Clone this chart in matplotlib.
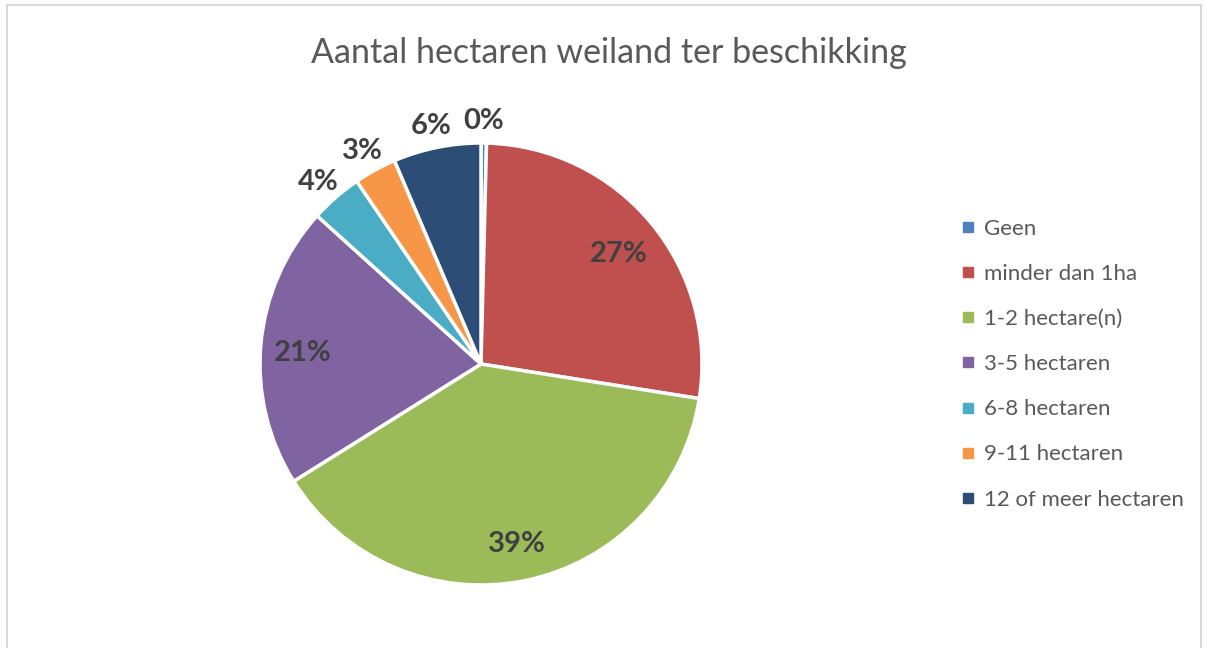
import matplotlib
matplotlib.use("Agg")
import matplotlib.pyplot as plt
from matplotlib.lines import Line2D
from matplotlib.patches import Rectangle
import numpy as np

# ------------------------------------------------------------------------
# Data (percent of respondents)
# ------------------------------------------------------------------------
categories = ["Geen", "minder dan 1ha", "1-2 hectare(n)", "3-5 hectaren",
              "6-8 hectaren", "9-11 hectaren", "12 of meer hectaren"]
shares = [0.4, 27.1, 38.6, 20.6, 3.8, 3.1, 6.4]
colors = ["#4F81BD", "#C0504D", "#9BBB59", "#8064A2",
          "#4BACC6", "#F79646", "#2C4D75"]
# labels that Excel put outside the pie ("best fit")
outside = [True, False, False, False, True, True, True]

plt.rcParams['font.family'] = ['Lato', 'DejaVu Sans']
TEXT = "#595959"

fig = plt.figure(figsize=(12.06, 6.48), dpi=100)

# light grey chart border
fig.patches.append(Rectangle((7 / 1206, -0.01), 1194 / 1206, 1 - 5 / 648 + 0.01,
                             transform=fig.transFigure, fill=False,
                             edgecolor="#d9d9d9", linewidth=1.5))

# pie axes: centre (481, 364) px, radius 221 px
R = 221
lim = 1.3
w = 2 * lim * R
ax = fig.add_axes([(481 - w / 2) / 1206, (648 - 364 - w / 2) / 648, w / 1206, w / 648])

wedges, _, autotexts = ax.pie(
    shares, colors=colors, startangle=90, counterclock=False,
    autopct=lambda p: f"{p:.0f}%",
    wedgeprops=dict(edgecolor="white", linewidth=2.5),
    textprops=dict(fontsize=21, fontweight="bold", color="#404040"))

# move data labels: inside ones deeper, small ones outside the rim
for wdg, txt, out in zip(wedges, autotexts, outside):
    ang = np.deg2rad((wdg.theta1 + wdg.theta2) / 2)
    d = 1.12 if out else 0.81
    txt.set_position((d * np.cos(ang), d * np.sin(ang) - 0.02))
    txt.set_ha("center")
    txt.set_va("center")

ax.set_xlim(-lim, lim)
ax.set_ylim(-lim, lim)
ax.set_aspect("equal")
ax.axis("off")

fig.text(609 / 1206, 1 - 53 / 648, "Aantal hectaren weiland ter beschikking",
         ha="center", va="center", fontsize=24.5, color=TEXT)

handles = [Line2D([], [], marker="s", linestyle="none", markersize=6.5,
                  markerfacecolor=c, markeredgecolor=c) for c in colors]
fig.legend(handles, categories, loc="upper left",
           bbox_to_anchor=(954 / 1206, 1 - 210 / 648), frameon=False,
           fontsize=16, labelcolor=TEXT, handlelength=0.5, handletextpad=0.45,
           labelspacing=1.13, borderaxespad=0)

plt.savefig("out.png", dpi=100)
